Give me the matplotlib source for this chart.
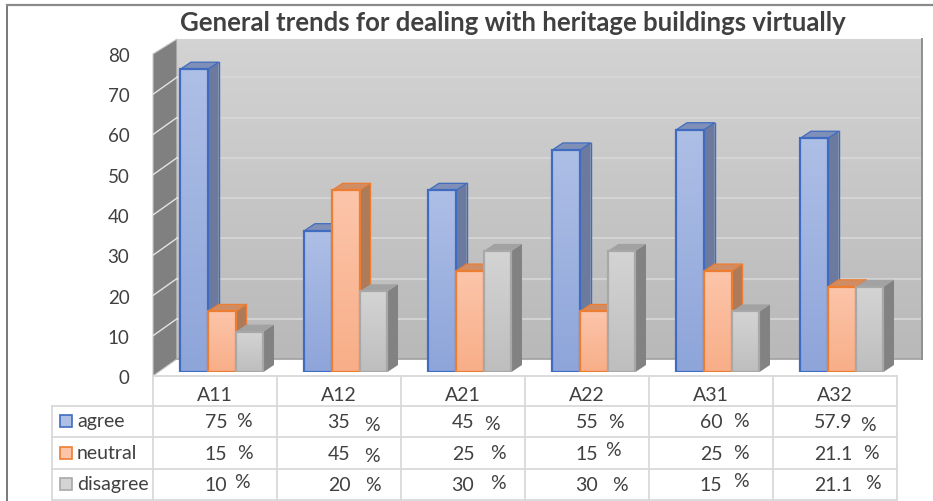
import numpy as np
import matplotlib
matplotlib.use("Agg")
import matplotlib.pyplot as plt
from matplotlib.colors import LinearSegmentedColormap
from matplotlib.patches import Polygon, Rectangle

categories = ["A11", "A12", "A21", "A22", "A31", "A32"]
series_names = ["agree", "neutral", "disagree"]
agree = [75, 35, 45, 55, 60, 57.9]
neutral = [15, 45, 25, 15, 25, 21.1]
disagree = [10, 20, 30, 30, 15, 21.1]
title = "General trends for dealing with heritage buildings virtually"
y_ticks = [0, 10, 20, 30, 40, 50, 60, 70, 80]

W, H = 933, 502
plt.rcParams["font.family"] = ["Lato", "DejaVu Sans"]
TXT = "#404040"

# colours: top of gradient, bottom of gradient, border, side, top
styles = [
    ("#aebfe6", "#8ea5da", "#3f6cc0", "#6b7a9e", "#7f8fb8"),
    ("#fcc5aa", "#f8ae88", "#ed7d31", "#ad7a5a", "#d08c62"),
    ("#d4d4d4", "#bebebe", "#a8a8a8", "#828282", "#a2a2a2"),
]

# the little misplaced % signs, x and y in pixels
pct_x = [[244, 372, 492, 616, 741, 868],
         [245, 372, 498, 613, 741, 871],
         [242, 373, 498, 620, 741, 873]]
pct_y = [[422, 426, 425, 423, 422, 426],
         [454, 457, 454, 451, 454, 454],
         [483, 486, 484, 486, 482, 484]]
val_x = [216, 339, 463, 587, 711, 833]
row_y = [423, 455, 486]


def axes_px(x0, x1, ytop, ybot):
    return [x0 / W, 1 - ybot / H, (x1 - x0) / W, (ybot - ytop) / H]


def gradient(ax, x0, x1, y0, y1, c_top, c_bot, zorder):
    cmap = LinearSegmentedColormap.from_list("g", [c_top, c_bot])
    ax.imshow(np.linspace(0, 1, 64).reshape(-1, 1), cmap=cmap, aspect="auto",
              extent=[x0, x1, y0, y1], zorder=zorder, clip_on=False,
              interpolation="bilinear")


fig = plt.figure(figsize=(W / 100, H / 100), dpi=100, facecolor="white")

# walls
wall = fig.add_axes(axes_px(153, 897, 55, 377), zorder=1)
wall.set_xlim(0, 6)
wall.set_ylim(0, 80)
wdx = 24 / 124
wdy = 17 / 4.025
wall_right = 6 + 25 / 124
wall_top = 79.5 + wdy
gradient(wall, wdx, wall_right, wdy, wall_top, "#d3d3d3", "#b9b9b9", 1)
wall.add_patch(Polygon([(0, 0), (wdx, wdy), (wdx, wall_top), (0, 80)],
                       fc="#808080", ec="#c8c8c8", lw=0.8, zorder=2, clip_on=False))
wall.plot([wdx, wall_right], [wdy, wdy], color="#a0a0a0", lw=1.2, zorder=3, clip_on=False)
wall.plot([wall_right, wall_right], [wdy, wall_top], color="#8f8f8f", lw=1.4, zorder=3, clip_on=False)
for t in y_ticks[1:-1]:
    wall.plot([wdx, wall_right], [t + wdy, t + wdy], color="#d9d9d9", lw=1.1, zorder=2, clip_on=False)
    wall.plot([0, wdx], [t, t + wdy], color="#e4e4e4", lw=1, zorder=3, clip_on=False)
wall.set_xticks([])
wall.set_yticks(y_ticks)
wall.set_yticklabels([str(t) for t in y_ticks], fontsize=13.5, color=TXT)
wall.tick_params(axis="y", length=0, pad=17)
for s in wall.spines.values():
    s.set_visible(False)
wall.patch.set_visible(False)

# bars
ax = fig.add_axes(axes_px(153.5, 897.5, 50, 373), zorder=2)
ax.patch.set_visible(False)
bar_w = 27.7 / 124
dx = 10.5 / 124
dy = 7 / 4.04
z = 5
for k, values in enumerate([agree, neutral, disagree]):
    c_top, c_bot, edge, side, top = styles[k]
    for i, v in enumerate(values):
        x0 = i + 0.552 + (k - 1.5) * bar_w
        x1 = x0 + bar_w
        ax.add_patch(Polygon([(x1, 0), (x1 + dx, dy), (x1 + dx, v + dy), (x1, v)],
                             fc=side, ec="none", zorder=z))
        ax.add_patch(Polygon([(x0, v), (x0 + dx, v + dy), (x1 + dx, v + dy), (x1, v)],
                             fc=top, ec="none", zorder=z))
        gradient(ax, x0, x1, 0, v, c_top, c_bot, z + 1)
        ax.bar(x0, v, bar_w, align="edge", fc="none", ec=edge, lw=1.6, zorder=z + 2)
        if k < 2:
            ax.plot([x1 + dx, x1 + dx], [dy, v + dy], color=edge, lw=1, zorder=z)
            ax.plot([x0, x0 + dx, x1 + dx, x1], [v, v + dy, v + dy, v], color=edge, lw=0.9, zorder=z)
        z += 3
ax.set_xlim(0, 6)
ax.set_ylim(0, 80)
ax.axis("off")

# data table, frame and title in pixel coordinates
ov = fig.add_axes([0, 0, 1, 1], zorder=3)
ov.set_xlim(0, W)
ov.set_ylim(H, 0)
ov.axis("off")
ov.patch.set_visible(False)

LINE = "#d9d9d9"
col_x = [153 + 124 * i for i in range(7)]
row_lines = [407, 438, 470, 501]
ov.plot([153, 897], [377, 377], color=LINE, lw=1.3)
for yy in row_lines:
    ov.plot([52, 897], [yy, yy], color=LINE, lw=1.3)
ov.plot([52, 52], [407, 501], color=LINE, lw=1.3)
for xx in col_x:
    ov.plot([xx, xx], [377, 501], color=LINE, lw=1.3)

for i, c in enumerate(categories):
    ov.text(col_x[i] + 62, 396, c, ha="center", va="center", fontsize=14, color=TXT)

for k, values in enumerate([agree, neutral, disagree]):
    c_top, c_bot, edge, side, top = styles[k]
    ov.add_patch(Rectangle((60, row_y[k] - 7), 12, 12, fc=c_top, ec=edge, lw=1.2))
    ov.text(77, row_y[k] - 1, series_names[k], ha="left", va="center", fontsize=14, color=TXT)
    for i, v in enumerate(values):
        ov.text(val_x[i], row_y[k], f"{v:g}", ha="center", va="center", fontsize=14, color=TXT)
        ov.text(pct_x[k][i], pct_y[k][i], "%", ha="center", va="center", fontsize=14, color=TXT)

ov.text(513, 23, title, ha="center", va="center", fontsize=18.5, fontweight="bold", color=TXT)

# screenshot border
ov.plot([7, 7], [H, 6], color="#6e6e6e", lw=1.3)
ov.plot([7, W], [6, 6], color="#8a8a8a", lw=1.6)

fig.savefig("out.png", dpi=100, facecolor="white")
